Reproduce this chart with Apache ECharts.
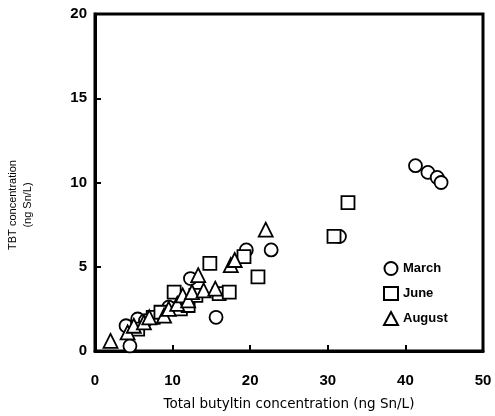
<!DOCTYPE html>
<html>
<head>
<meta charset="utf-8">
<script src="https://cdn.jsdelivr.net/npm/echarts@6/dist/echarts.min.js"></script>
<style>html,body{margin:0;padding:0;background:#fff}#c{width:495px;height:416px}</style>
</head>
<body>
<div id="c"></div>
<script>
const xTicks = [0, 10, 20, 30, 40, 50];
const yTicks = [0, 5, 10, 15, 20];
const march = [[4.0,1.5],[4.5,0.3],[5.5,1.9],[6.5,1.8],[9.5,2.6],[12.3,4.3],[15.6,2.0],[19.5,6.0],[22.7,6.0],[31.5,6.8],[41.3,11.0],[42.9,10.6],[44.1,10.3],[44.6,10.0]];
const june = [[5.5,1.3],[7.5,2.0],[8.5,2.3],[10.2,3.5],[11.0,2.5],[12.0,2.7],[13.0,3.3],[14.8,5.2],[16.0,3.4],[17.3,3.5],[19.2,5.6],[21.0,4.4],[30.8,6.8],[32.6,8.8]];
const august = [[2.0,0.6],[4.2,1.1],[5.0,1.5],[6.3,1.7],[7.0,2.0],[8.9,2.1],[9.5,2.5],[10.6,2.8],[11.3,3.3],[12.0,3.0],[12.5,3.5],[13.3,4.5],[14.0,3.6],[15.5,3.7],[17.5,5.1],[18.0,5.4],[22.0,7.2]];

const chart = echarts.init(document.getElementById('c'));
const mk = (name, data, symbol, size) => ({
  name, type: 'scatter', data, symbol, symbolSize: size,
  itemStyle: { color: '#fff', borderColor: '#000', borderWidth: 1.8, opacity: 1 }
});
chart.setOption({
  animation: false,
  backgroundColor: '#fff',
  grid: { left: 95, right: 12, top: 14, bottom: 64, show: true, borderColor: '#000', borderWidth: 3, backgroundColor: 'transparent' },
  xAxis: {
    type: 'value', min: xTicks[0], max: xTicks[xTicks.length-1], interval: 10,
    name: 'Total butyltin concentration (ng Sn/L)', nameLocation: 'middle', nameGap: 46,
    nameTextStyle: { fontFamily: 'DejaVu Sans', fontSize: 13.5, color: '#000' },
    axisLine: { lineStyle: { color: '#000', width: 3 } },
    axisTick: { inside: true, length: 6, lineStyle: { color: '#000', width: 2 } },
    axisLabel: { margin: 22, fontFamily: 'Liberation Sans, Arial', fontSize: 15, fontWeight: 'bold', color: '#000' },
    splitLine: { show: false }
  },
  yAxis: {
    type: 'value', min: yTicks[0], max: yTicks[yTicks.length-1], interval: 5,
    axisLine: { lineStyle: { color: '#000', width: 3 } },
    axisTick: { inside: true, length: 6, lineStyle: { color: '#000', width: 2 } },
    axisLabel: { margin: 8, fontFamily: 'Liberation Sans, Arial', fontSize: 15, fontWeight: 'bold', color: '#000' },
    splitLine: { show: false }
  },
  graphic: [{
    type: 'text', x: 20, y: 205, rotation: Math.PI / 2,
    style: { text: 'TBT concentration\n(ng Sn/L)', fontFamily: 'Liberation Sans, Arial', fontSize: 11, lineHeight: 15,
      fill: '#000', textAlign: 'center', textVerticalAlign: 'middle' }
  }],
  legend: {
    orient: 'vertical', left: 378, top: 256, itemGap: 10, itemWidth: 14, itemHeight: 13,
    textStyle: { fontFamily: 'Liberation Sans, Arial', fontSize: 13, fontWeight: 'bold', color: '#000' },
    data: ['March', 'June', 'August']
  },
  series: [
    mk('March', march, 'circle', 13),
    mk('June', june, 'rect', 13),
    mk('August', august, 'triangle', 14)
  ]
});
</script>
</body>
</html>
